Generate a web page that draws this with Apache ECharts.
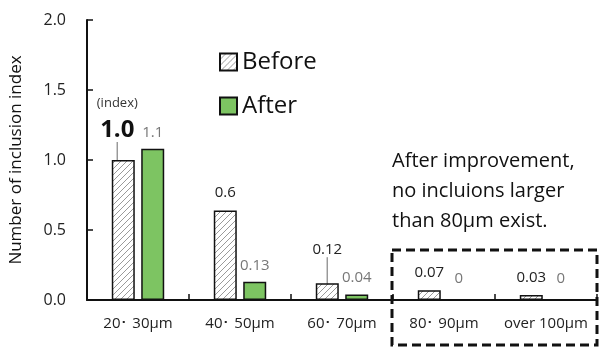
<!DOCTYPE html>
<html>
<head>
<meta charset="utf-8">
<script src="https://cdn.jsdelivr.net/npm/echarts@6/dist/echarts.min.js"></script>
<style>
  html, body { margin: 0; padding: 0; background: #fff; }
  #chart { width: 601px; height: 349px; }
</style>
</head>
<body>
<div id="chart"></div>
<script>
const categories = ['20･ 30μm', '40･ 50μm', '60･ 70μm', '80･ 90μm', 'over 100μm'];
const beforeValues = [1.0, 0.64, 0.12, 0.07, 0.036];
const afterValues = [1.08, 0.13, 0.04, 0, 0];
const beforeLabels = ['1.0', '0.6', '0.12', '0.07', '0.03'];
const afterLabels = ['1.1', '0.13', '0.04', '0', '0'];
const yTicks = [0, 0.5, 1.0, 1.5, 2.0];

const FONT = '"Open Sans"';

// diagonal hatch for the "Before" bars
function hatch() {
  const c = document.createElement('canvas');
  c.width = 6;
  c.height = 6;
  const ctx = c.getContext('2d');
  ctx.fillStyle = '#fff';
  ctx.fillRect(0, 0, 6, 6);
  ctx.strokeStyle = '#9a9a9a';
  ctx.lineWidth = 1;
  ctx.beginPath();
  ctx.moveTo(0, 6); ctx.lineTo(6, 0);
  ctx.moveTo(-3, 3); ctx.lineTo(3, -3);
  ctx.moveTo(3, 9); ctx.lineTo(9, 3);
  ctx.stroke();
  return c;
}

const leader = { show: true, lineStyle: { color: '#999', width: 1.5 } };

const beforeData = beforeValues.map((v, i) => {
  const item = { value: v };
  if (i === 0) {
    item.label = {
      formatter: '{s|(index)}\n{b|1.0}',
      rich: {
        s: { fontSize: 13, color: '#333', fontFamily: FONT, lineHeight: 24 },
        b: { fontSize: 24, fontWeight: 'bold', color: '#111', fontFamily: FONT, lineHeight: 30 }
      }
    };
    item.labelLine = leader;
  }
  if (i === 2) item.labelLine = leader;
  return item;
});

const option = {
  animation: false,
  textStyle: { fontFamily: FONT },
  grid: { left: 85, right: 4, top: 20, bottom: 49 },
  legend: {
    orient: 'vertical',
    left: 214,
    top: 45,
    itemWidth: 17,
    itemHeight: 17,
    itemGap: 20,
    icon: 'rect',
    textStyle: { fontSize: 24, color: '#111', fontFamily: FONT },
    data: ['Before', 'After']
  },
  xAxis: {
    type: 'category',
    data: categories,
    axisLine: { lineStyle: { color: '#111', width: 2 } },
    axisTick: { show: true, inside: true, length: 6, lineStyle: { color: '#111', width: 1.5 } },
    axisLabel: { interval: 0, fontSize: 15, color: '#222', margin: 16, fontFamily: FONT }
  },
  yAxis: {
    type: 'value',
    min: 0,
    max: 2,
    interval: 0.5,
    name: 'Number of inclusion index',
    nameLocation: 'middle',
    nameGap: 62,
    nameTextStyle: { fontSize: 17, color: '#111', fontFamily: FONT },
    axisLine: { show: true, lineStyle: { color: '#111', width: 2 } },
    axisTick: { show: true, inside: true, length: 6, lineStyle: { color: '#111', width: 1.5 } },
    splitLine: { show: false },
    axisLabel: {
      fontSize: 16,
      color: '#222',
      margin: 21,
      fontFamily: FONT,
      formatter: v => yTicks.includes(v) ? v.toFixed(1) : ''
    }
  },
  series: [
    {
      name: 'Before',
      type: 'bar',
      barWidth: 23,
      barGap: '28%',
      data: beforeData,
      itemStyle: {
        color: { image: hatch(), repeat: 'repeat' },
        borderColor: '#111',
        borderWidth: 1.5
      },
      label: {
        show: true,
        position: 'top',
        distance: 10,
        fontSize: 15,
        color: '#222',
        fontFamily: FONT,
        formatter: p => beforeLabels[p.dataIndex]
      },
      labelLayout: p => {
        if (p.dataIndex === 0) return { dx: -6, dy: -5 };
        if (p.dataIndex === 2) return { dy: -16 };
        return {};
      }
    },
    {
      name: 'After',
      type: 'bar',
      barWidth: 23,
      data: afterValues,
      itemStyle: {
        color: '#7dc462',
        borderColor: '#111',
        borderWidth: 1.5
      },
      label: {
        show: true,
        position: 'top',
        distance: 9,
        fontSize: 15,
        color: '#777',
        fontFamily: FONT,
        formatter: p => afterLabels[p.dataIndex]
      },
      labelLayout: p => {
        if (afterValues[p.dataIndex] === 0) return { dy: -4 };
        return {};
      }
    }
  ],
  graphic: [
    {
      type: 'text',
      left: 392,
      top: 146,
      style: {
        text: 'After improvement,\nno incluions larger\nthan 80μm exist.',
        fontSize: 20,
        lineHeight: 30,
        fill: '#111',
        fontFamily: FONT
      }
    },
    {
      type: 'rect',
      shape: { x: 392, y: 250, width: 205, height: 95 },
      style: { fill: 'none', stroke: '#111', lineWidth: 3, lineDash: [9, 5] }
    }
  ]
};

const chart = echarts.init(document.getElementById('chart'));
chart.setOption(option);
</script>
</body>
</html>
